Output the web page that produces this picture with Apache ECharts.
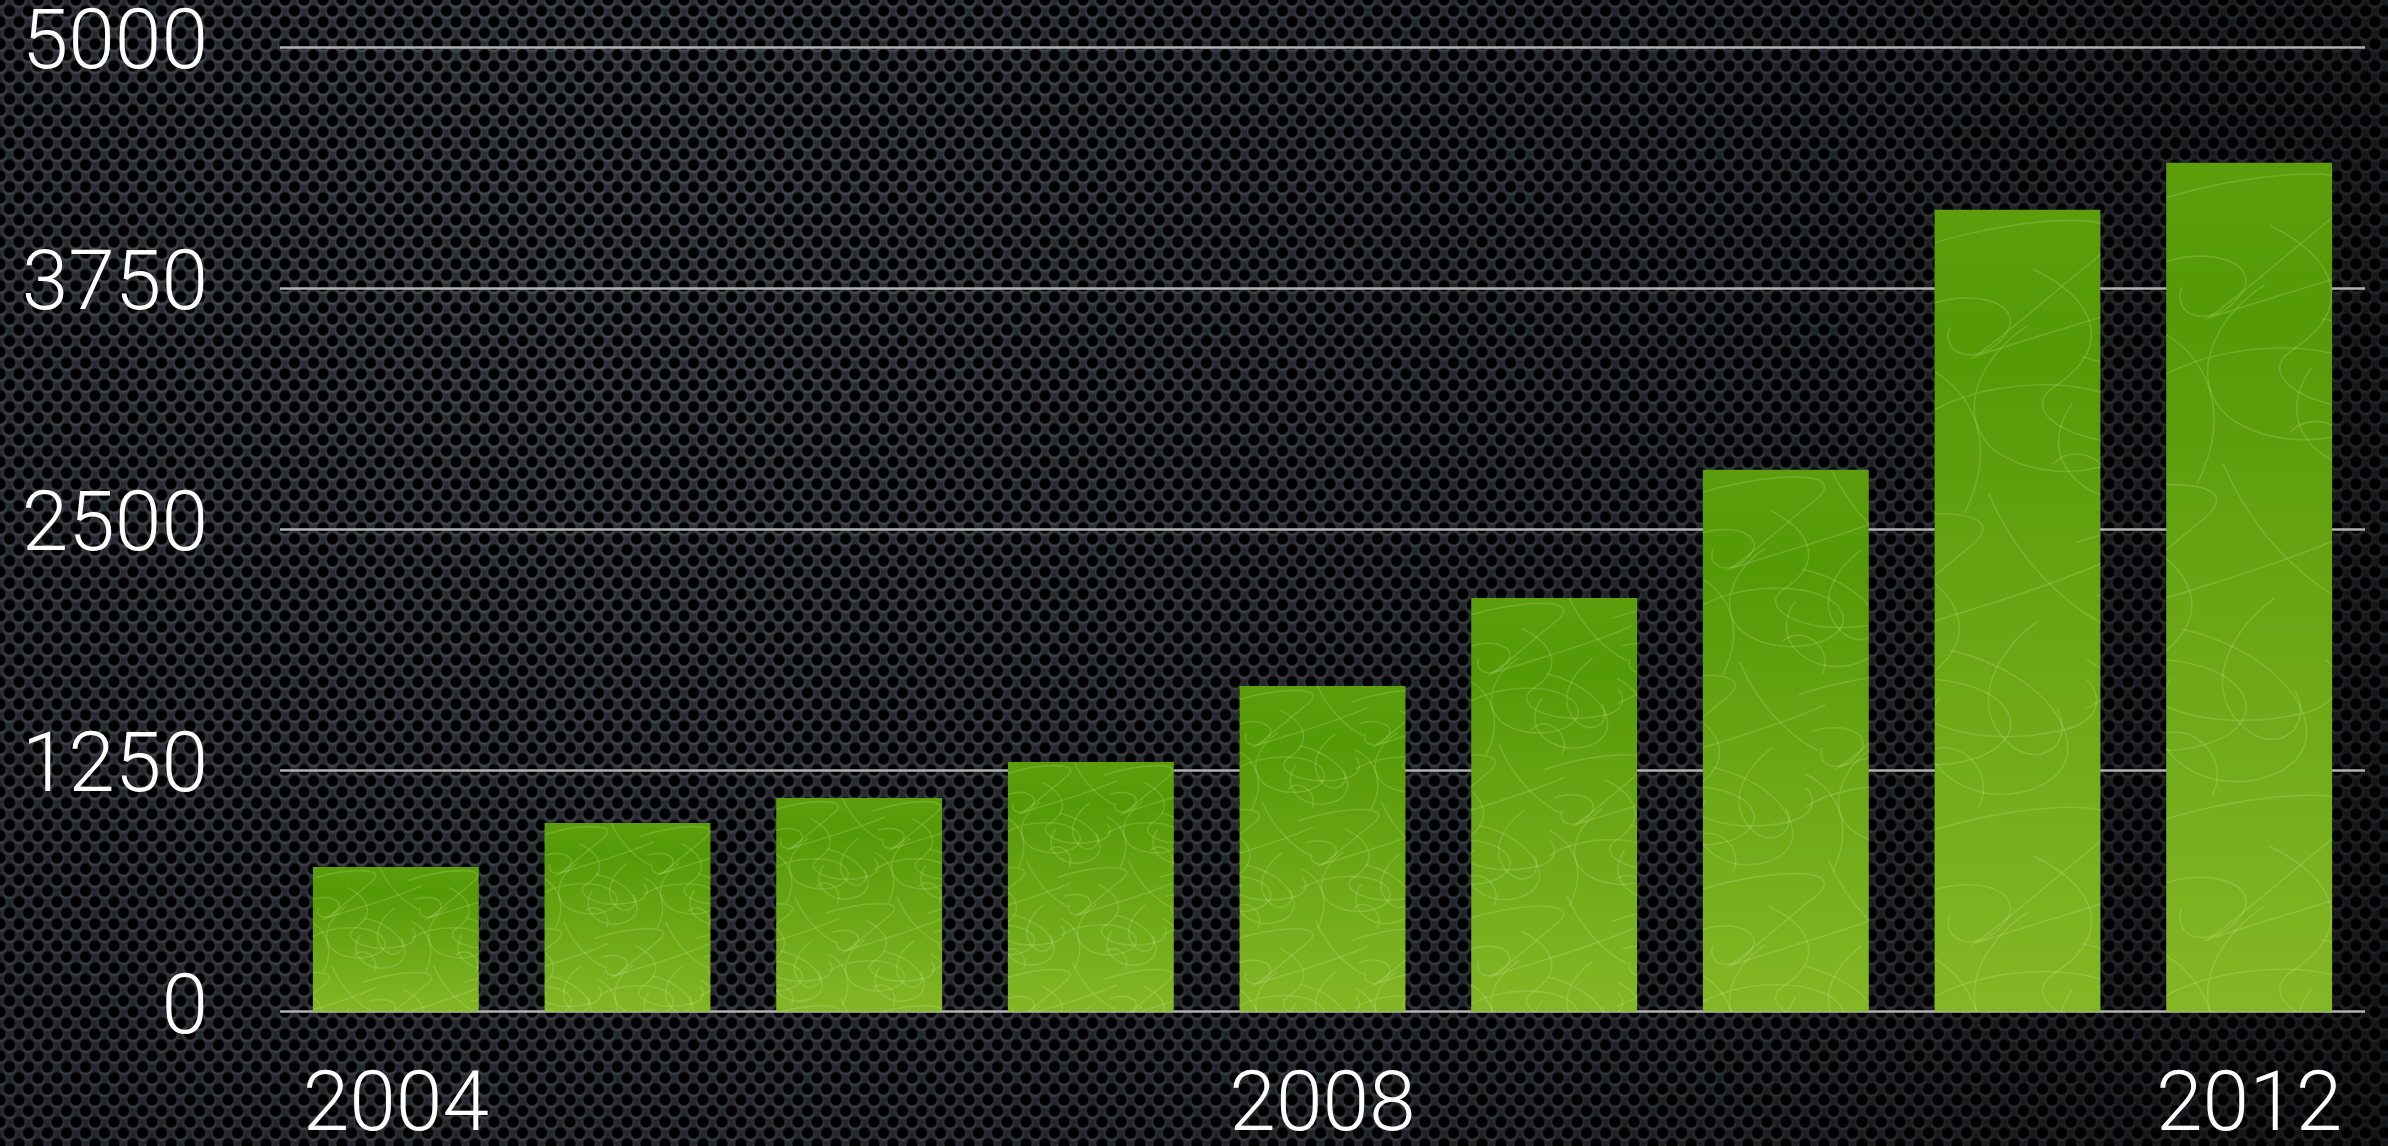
<!DOCTYPE html>
<html>
<head>
<meta charset="utf-8">
<script src="https://cdn.jsdelivr.net/npm/echarts@6/dist/echarts.min.js"></script>
<style>
  html, body { margin: 0; padding: 0; background: #1a1c1f; }
  #chart { width: 2388px; height: 1146px; }
</style>
</head>
<body>
<div id="chart"></div>
<script>
// Yearly totals, 2004–2012
const years = ['2004', '2005', '2006', '2007', '2008', '2009', '2010', '2011', '2012'];
const totals = [749, 977, 1107, 1294, 1688, 2144, 2808, 4156, 4400];
const yTicks = [0, 1250, 2500, 3750, 5000];

const W = 2388, H = 1146;
const FONT = 'Roboto, "Liberation Sans", sans-serif';

// Perforated dark-metal backdrop, painted once onto a full-size canvas
function metalBackground() {
  const tile = document.createElement('canvas');
  const tw = 19, th = 22;
  tile.width = tw; tile.height = th;
  const t = tile.getContext('2d');
  t.fillStyle = '#2c3035';
  t.fillRect(0, 0, tw, th);
  const holes = [[0, 0], [tw, 0], [0, th], [tw, th], [tw / 2, th / 2]];
  holes.forEach(([cx, cy]) => {
    // lighter rim under each hole
    const rim = t.createRadialGradient(cx, cy + 1.5, 4, cx, cy + 1.5, 8);
    rim.addColorStop(0, 'rgba(92,98,106,0.95)');
    rim.addColorStop(1, 'rgba(92,98,106,0)');
    t.fillStyle = rim;
    t.beginPath(); t.arc(cx, cy + 1.5, 8, 0, Math.PI * 2); t.fill();
  });
  holes.forEach(([cx, cy]) => {
    const g = t.createRadialGradient(cx, cy, 0, cx, cy, 6.8);
    g.addColorStop(0, 'rgba(0,0,0,1)');
    g.addColorStop(0.7, 'rgba(0,0,0,1)');
    g.addColorStop(1, 'rgba(0,0,0,0)');
    t.fillStyle = g;
    t.beginPath(); t.arc(cx, cy, 6.8, 0, Math.PI * 2); t.fill();
  });

  const c = document.createElement('canvas');
  c.width = W; c.height = H;
  const ctx = c.getContext('2d');
  ctx.fillStyle = ctx.createPattern(tile, 'repeat');
  ctx.fillRect(0, 0, W, H);
  // darken toward the lower right
  const v = ctx.createRadialGradient(600, 250, 100, 600, 250, 2300);
  v.addColorStop(0, 'rgba(0,0,0,0.0)');
  v.addColorStop(0.55, 'rgba(0,0,0,0.3)');
  v.addColorStop(1, 'rgba(0,0,0,0.72)');
  ctx.fillStyle = v;
  ctx.fillRect(0, 0, W, H);
  return c;
}

// Hand-drawn loop strokes for the bar texture, in a 300×300 unit tile
const scribblePaths = [
  'M-20 40 C80 5 230 -5 170 45 C120 85 70 130 40 150 C130 120 230 95 320 55',
  'M-10 210 C60 165 190 170 210 215 C230 260 120 290 60 245 C20 210 45 150 95 118',
  'M150 150 C260 175 310 265 235 292 C170 315 95 262 140 198',
  'M190 -10 C220 60 270 105 310 125',
  'M30 310 C65 240 40 185 -10 160',
  'M100 60 C165 92 185 140 120 182 C80 212 165 255 265 232 C300 225 310 200 290 180',
  'M240 120 C200 150 170 200 205 240 C235 275 280 250 260 210',
  'M0 95 C50 80 95 100 70 130 C45 160 5 150 15 120',
  'M120 260 C150 230 200 270 180 310'
];

const scribbleCache = {};
function scribble(w, h) {
  const key = w + 'x' + h;
  if (scribbleCache[key]) return scribbleCache[key];
  const c = document.createElement('canvas');
  c.width = Math.max(1, Math.round(w));
  c.height = Math.max(1, Math.round(h));
  const ctx = c.getContext('2d');
  const s = Math.max(0.34, Math.min(1.05, h / 820));
  const step = 300 * s;
  ctx.strokeStyle = 'rgba(225,255,190,0.17)';
  ctx.lineWidth = 1.6 / s;
  const paths = scribblePaths.map(p => new Path2D(p));
  let row = 0;
  for (let oy = 0; oy < h; oy += step, row++) {
    for (let ox = -(row % 2) * step * 0.45; ox < w; ox += step) {
      ctx.save();
      ctx.translate(ox, oy);
      ctx.scale(s, s);
      paths.forEach(p => ctx.stroke(p));
      ctx.restore();
    }
  }
  scribbleCache[key] = c;
  return c;
}

const BAR_RATIO = 0.716;

const chart = echarts.init(document.getElementById('chart'), null, { renderer: 'canvas' });
chart.setOption({
  backgroundColor: { image: metalBackground(), repeat: 'no-repeat' },
  animation: false,
  grid: {
    left: 280, right: 23, top: 47, bottom: 134.5,
    containLabel: false, outerBoundsMode: 'none'
  },
  xAxis: {
    type: 'category',
    data: years,
    axisLine: { show: false },
    axisTick: { show: false },
    splitLine: { show: false },
    axisLabel: {
      interval: 3,
      margin: 55,
      color: '#ffffff',
      fontFamily: FONT,
      fontWeight: 300,
      fontSize: 84
    }
  },
  yAxis: {
    type: 'value',
    min: yTicks[0],
    max: yTicks[yTicks.length - 1],
    interval: yTicks[1] - yTicks[0],
    axisLine: { show: false },
    axisTick: { show: false },
    splitLine: { lineStyle: { color: '#b2b2b2', width: 2.5 } },
    axisLabel: {
      margin: 72,
      color: '#ffffff',
      fontFamily: FONT,
      fontWeight: 300,
      fontSize: 84,
      formatter: v => String(v)
    }
  },
  series: [
    {
      type: 'bar',
      data: totals,
      barWidth: (BAR_RATIO * 100) + '%',
      itemStyle: {
        color: {
          type: 'linear', x: 0, y: 0, x2: 0, y2: 1,
          colorStops: [
            { offset: 0, color: '#5c9e0b' },
            { offset: 0.18, color: '#569907' },
            { offset: 1, color: '#84b726' }
          ]
        }
      },
      silent: true
    },
    {
      type: 'custom',
      data: totals.map((v, i) => [i, v]),
      z: 3,
      silent: true,
      renderItem: function (params, api) {
        const top = api.coord([api.value(0), api.value(1)]);
        const base = api.coord([api.value(0), 0]);
        const bw = api.size([1, 0])[0] * BAR_RATIO;
        const x = Math.round(top[0] - bw / 2);
        const y = Math.round(top[1]);
        const w = Math.round(bw);
        const h = Math.round(base[1] - top[1]);
        return {
          type: 'image',
          style: { image: scribble(w, h), x: x, y: y, width: w, height: h }
        };
      }
    }
  ]
});
</script>
</body>
</html>
